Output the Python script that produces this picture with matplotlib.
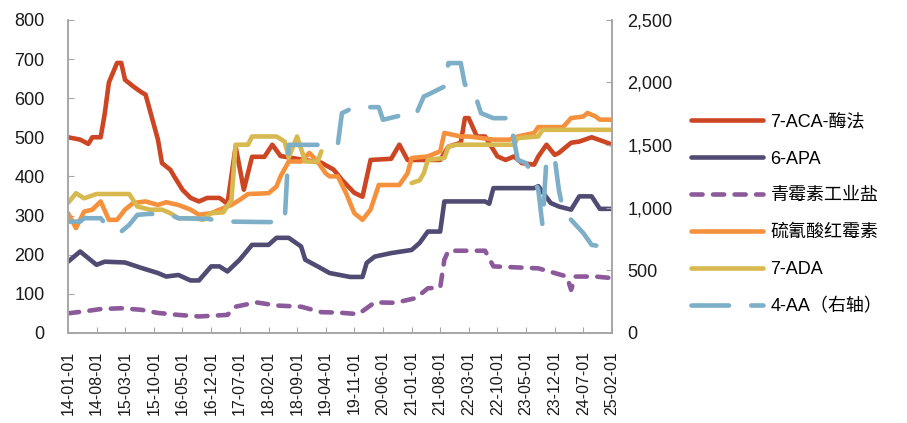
import numpy as np
import pandas as pd
import matplotlib
matplotlib.use("Agg")
import matplotlib.pyplot as plt
import matplotlib.dates as mdates
from matplotlib.ticker import FuncFormatter, MultipleLocator

plt.rcParams['font.family'] = ['Liberation Sans', 'Noto Sans CJK SC', 'DejaVu Sans']
plt.rcParams['lines.scale_dashes'] = False

# 7-ACA-酶法 (left axis)
aca_dates = ['2014-01', '2014-04', '2014-06', '2014-07', '2014-09', '2014-10', '2014-11', '2015-01',
             '2015-02', '2015-03', '2015-05', '2015-07', '2015-08', '2015-11', '2015-12', '2016-02',
             '2016-03', '2016-05', '2016-07', '2016-09', '2016-11', '2017-02', '2017-04', '2017-06',
             '2017-08', '2017-10', '2018-01', '2018-03', '2018-05', '2018-09', '2019-03', '2019-06',
             '2019-08', '2019-11', '2020-01', '2020-03', '2020-08', '2020-10', '2020-12', '2021-08',
             '2021-10', '2022-01', '2022-02', '2022-03', '2022-05', '2022-07', '2022-10', '2022-12',
             '2023-02', '2023-04', '2023-07', '2023-08', '2023-10', '2023-12', '2024-01', '2024-04',
             '2024-06', '2024-09', '2024-12', '2025-02']
aca_vals = [500, 494, 483, 500, 500, 560, 640, 690,
            690, 647, 630, 615, 609, 494, 434, 417,
            400, 366, 345, 336, 345, 345, 330, 476,
            366, 450, 450, 481, 452, 445, 435, 417,
            391, 358, 348, 442, 445, 481, 442, 442,
            476, 486, 549, 549, 502, 502, 451, 442,
            451, 434, 430, 451, 481, 455, 460, 486,
            489, 500, 489, 481]

# 6-APA (left axis)
apa_dates = ['2014-01', '2014-04', '2014-08', '2014-10', '2015-03', '2015-07', '2015-11', '2016-01',
             '2016-04', '2016-07', '2016-09', '2016-12', '2017-02', '2017-04', '2017-07', '2017-10',
             '2018-02', '2018-04', '2018-07', '2018-10', '2018-11', '2019-02', '2019-05', '2019-10',
             '2020-01', '2020-02', '2020-04', '2020-08', '2021-01', '2021-03', '2021-05', '2021-08',
             '2021-09', '2022-07', '2022-08', '2022-09', '2023-07', '2023-08', '2023-11', '2024-01',
             '2024-04', '2024-06', '2024-09', '2024-11', '2025-02']
apa_vals = [182, 208, 174, 182, 180, 166, 153, 144,
            148, 134, 134, 170, 170, 157, 187, 225,
            225, 243, 243, 221, 187, 170, 153, 143,
            143, 179, 195, 204, 212, 230, 259, 259,
            336, 336, 330, 370, 370, 375, 332, 323,
            315, 349, 349, 317, 317]

# 青霉素工业盐 (left axis)
salt_dates = ['2014-01', '2014-05', '2014-09', '2015-02', '2015-07', '2015-11', '2016-04', '2016-09',
              '2017-04', '2017-06', '2017-11', '2018-04', '2018-10', '2019-03', '2019-07', '2019-12',
              '2020-04', '2020-09', '2021-02', '2021-05', '2021-08', '2021-09', '2021-10', '2022-07',
              '2022-09', '2023-08', '2023-12', '2024-03', '2024-04', '2024-05', '2024-10', '2025-02']
salt_vals = [50, 55, 61, 63, 59, 51, 46, 42,
             46, 67, 78, 70, 67, 53, 52, 48,
             78, 77, 89, 114, 116, 187, 210, 210,
             170, 165, 153, 144, 110, 144, 144, 140]

# 硫氰酸红霉素 (left axis)
ery_dates = ['2014-01', '2014-03', '2014-05', '2014-07', '2014-09', '2014-11', '2015-01', '2015-03',
             '2015-05', '2015-08', '2015-11', '2016-01', '2016-04', '2016-07', '2016-09', '2016-12',
             '2017-02', '2017-05', '2017-07', '2017-09', '2018-02', '2018-04', '2018-05', '2018-07',
             '2018-10', '2018-12', '2019-02', '2019-04', '2019-05', '2019-07', '2019-09', '2019-11',
             '2020-01', '2020-03', '2020-05', '2020-10', '2020-12', '2021-01', '2021-05', '2021-08',
             '2021-09', '2022-01', '2022-03', '2022-09', '2023-01', '2023-03', '2023-07', '2023-08',
             '2024-02', '2024-04', '2024-07', '2024-08', '2024-10', '2024-11', '2025-02']
ery_vals = [306, 268, 310, 315, 336, 289, 289, 315,
            332, 336, 327, 334, 327, 315, 302, 306,
            315, 327, 340, 355, 357, 374, 400, 438,
            438, 460, 438, 408, 400, 400, 357, 306,
            289, 315, 378, 378, 408, 447, 451, 464,
            511, 502, 502, 494, 494, 502, 511, 526,
            526, 549, 553, 562, 553, 545, 545]

# 7-ADA (left axis), no data mid-2019 to end-2020
ada_dates = ['2014-01', '2014-03', '2014-05', '2014-08', '2015-04', '2015-06', '2015-09', '2015-12',
             '2016-02', '2016-04', '2016-08', '2016-10', '2016-12', '2017-03', '2017-05', '2017-06',
             '2017-09', '2017-10', '2018-04', '2018-06', '2018-07', '2018-09', '2018-11', '2019-02',
             '2019-03', '2019-08', '2021-01', '2021-03', '2021-04', '2021-05', '2021-09', '2021-10',
             '2021-12', '2023-02', '2023-03', '2023-08', '2023-09', '2025-02']
ada_vals = [332, 357, 344, 355, 355, 323, 315, 315,
            306, 293, 293, 289, 306, 308, 340, 481,
            481, 502, 502, 489, 448, 502, 438, 438,
            464, np.nan, 383, 390, 408, 442, 447, 476,
            481, 481, 498, 502, 519, 519]

# 4-AA (right axis)
aa_dates = ['2014-01', '2014-04', '2014-05', '2014-09', '2014-10', '2015-02', '2015-04', '2015-06',
            '2015-09', '2016-02', '2016-04', '2016-11', '2017-04', '2018-02', '2018-06', '2018-07',
            '2018-12', '2019-07', '2019-08', '2019-11', '2020-05', '2020-06', '2020-11', '2021-02',
            '2021-04', '2021-05', '2021-09', '2021-10', '2022-01', '2022-02', '2022-04', '2022-06',
            '2022-09', '2023-01', '2023-03', '2023-05', '2023-06', '2023-08', '2023-09', '2023-10',
            '2023-12', '2024-01', '2024-02', '2024-04', '2024-07', '2024-09', '2025-02']
aa_vals = [889, 889, 916, 916, 876, 809, 863, 943,
           951, 943, 916, 911, 889, 885, 889, 1502,
           1502, 1502, 1755, 1803, 1803, 1702, 1742, 1742,
           1888, 1902, 1968, 2155, 2155, 1982, 1955, 1755,
           1715, 1715, 1382, 1356, 1300, 1143, 860, 1396,
           1396, 1143, 983, 903, 797, 703, 677]

labels = ['7-ACA-酶法', '6-APA', '青霉素工业盐', '硫氰酸红霉素', '7-ADA', '4-AA（右轴）']
colors = ['#CD4623', '#504B73', '#8C5A9B', '#F5913C', '#D8B950', '#7DAFC8']

fig = plt.figure(figsize=(9.07, 4.23), dpi=100)
ax = fig.add_axes([0.075, 0.213, 0.6, 0.74])
ax2 = ax.twinx()

lw = 3.3
kw = dict(lw=lw, solid_capstyle='round', solid_joinstyle='round', dash_capstyle='round')
ax.plot(pd.to_datetime(aca_dates), aca_vals, color=colors[0], label=labels[0], **kw)
ax.plot(pd.to_datetime(apa_dates), apa_vals, color=colors[1], label=labels[1], **kw)
ax.plot(pd.to_datetime(salt_dates), salt_vals, color=colors[2], label=labels[2],
        dashes=(8, 7.5), **kw)
ax.plot(pd.to_datetime(ery_dates), ery_vals, color=colors[3], label=labels[3], **kw)
ax.plot(pd.to_datetime(ada_dates), ada_vals, color=colors[4], label=labels[4], **kw)
ax2.plot(pd.to_datetime(aa_dates), aa_vals, color=colors[5], label=labels[5],
         dashes=(27, 16), **kw)

ax.set_ylim(0, 800)
ax.yaxis.set_major_locator(MultipleLocator(100))
ax2.set_ylim(0, 2500)
ax2.yaxis.set_major_locator(MultipleLocator(500))
ax2.yaxis.set_major_formatter(FuncFormatter(lambda v, p: '{:,.0f}'.format(v)))

xticks = pd.date_range('2014-01-01', '2025-02-01', freq='7MS')
ax.set_xlim(pd.Timestamp('2014-01-01'), pd.Timestamp('2025-02-01'))
ax.set_xticks(xticks)
ax.xaxis.set_major_formatter(mdates.DateFormatter('%y-%m-%d'))

spine_c = '#A6A6A6'
for a in (ax, ax2):
    a.spines['top'].set_visible(False)
    for s in ('left', 'right', 'bottom'):
        a.spines[s].set_color(spine_c)
        a.spines[s].set_linewidth(1.2)
ax.tick_params(axis='y', direction='in', length=4, color=spine_c, pad=17, labelsize=13, labelcolor='#1a1a1a')
ax2.tick_params(axis='y', direction='in', length=4, color=spine_c, pad=11, labelsize=13, labelcolor='#1a1a1a')
ax.tick_params(axis='x', direction='in', length=4, color=spine_c, pad=13, labelsize=11.5,
               labelrotation=90, labelcolor='#1a1a1a')

h1, l1 = ax.get_legend_handles_labels()
h2, l2 = ax2.get_legend_handles_labels()
leg = fig.legend(h1 + h2, l1 + l2, loc='center left', bbox_to_anchor=(0.762, 0.493),
                 frameon=False, fontsize=13, handlelength=4.0, handletextpad=0.4,
                 labelspacing=1.1, borderpad=0, borderaxespad=0)

fig.savefig('out.png', dpi=100)
